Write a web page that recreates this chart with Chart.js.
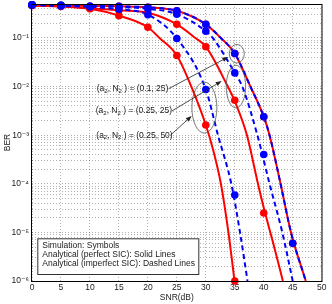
<!DOCTYPE html>
<html>
<head>
<meta charset="utf-8">
<script src="https://cdn.jsdelivr.net/npm/chart.js@4.4.1/dist/chart.umd.min.js"></script>
<style>
  html, body { margin: 0; padding: 0; background: #fff; }
  #chart { display: block; }
</style>
</head>
<body>
<canvas id="chart" width="332" height="304"></canvas>
<script>
// Simulation points (symbols)
const sim_snr = [0, 5, 10, 15, 20, 25, 30, 35, 40, 45];
const sim_perf_01_25 = [0.479, 0.468, 0.447, 0.447, 0.427, 0.363, 0.191, 0.0479, 0.0024, 6.0e-6];
const sim_imp_01_25 = [0.479, 0.468, 0.447, 0.447, 0.427, 0.363, 0.191, 0.0479, 0.0024, 6.0e-6];
const sim_perf_025_25 = [0.468, 0.447, 0.407, 0.372, 0.331, 0.191, 0.0661, 0.00525, 2.5e-5];
const sim_imp_025_25 = [0.479, 0.468, 0.447, 0.437, 0.398, 0.309, 0.138, 0.0191, 4.0e-4];
const sim_perf_025_50 = [0.468, 0.447, 0.398, 0.288, 0.166, 0.0437, 0.00162, 1.0e-6];
const sim_imp_025_50 = [0.479, 0.457, 0.437, 0.389, 0.302, 0.0977, 0.0087, 5.9e-5];

// Analytical curves
const ana_01_25_snr = [0, 5, 10, 15, 20, 25, 30, 32.6, 35, 37.7, 40, 41, 42.9, 44.7, 47.25];
const ana_01_25 = [0.479, 0.468, 0.457, 0.447, 0.427, 0.363, 0.191, 0.1, 0.0479, 0.01, 0.0024, 1e-3, 1e-4, 1e-5, 1e-6];
const ana_perf_025_25_snr = [0, 5, 10, 15, 20, 25, 28.2, 30, 33.8, 35, 37.1, 39, 40, 41.7, 43.3];
const ana_perf_025_25 = [0.468, 0.447, 0.407, 0.372, 0.331, 0.191, 0.1, 0.0661, 0.01, 0.005, 1e-3, 1e-4, 3.2e-5, 5.6e-6, 1e-6];
const ana_imp_025_25_snr = [0, 5, 10, 15, 20, 25, 30, 31.2, 35, 36.3, 38.9, 41.0, 43.2, 45];
const ana_imp_025_25 = [0.479, 0.468, 0.457, 0.437, 0.398, 0.309, 0.138, 0.1, 0.0191, 0.01, 1e-3, 1e-4, 1e-5, 1e-6];
const ana_perf_025_50_snr = [0, 5, 10, 15, 20, 22, 25, 27.5, 30, 31.3, 32.6, 33.9, 34.95];
const ana_perf_025_50 = [0.468, 0.447, 0.398, 0.288, 0.166, 0.1, 0.0437, 0.01, 0.00162, 4.8e-4, 1e-4, 1e-5, 1e-6];
const ana_imp_025_50_snr = [0, 5, 10, 15, 20, 25, 30, 32.1, 34.4, 35.9, 37.2];
const ana_imp_025_50 = [0.479, 0.457, 0.437, 0.389, 0.302, 0.0977, 0.0087, 1e-3, 1e-4, 1e-5, 1e-6];

// Axis ticks
const x_ticks = [0, 5, 10, 15, 20, 25, 30, 35, 40, 45, 50];
const y_decades = [1e-6, 1e-5, 1e-4, 1e-3, 1e-2, 1e-1];
const y_max = 0.5;

// Case labels
const cases = [
    { a2: '0.1', n2: '25' },
    { a2: '0.25', n2: '25' },
    { a2: '0.25', n2: '50' },
];
const legend_lines = [
    'Simulation: Symbols',
    'Analytical (perfect SIC): Solid Lines',
    'Analytical (imperfect SIC): Dashed Lines',
];

// Annotation anchors in data units (snr, ber), sizes in px
const case_ellipses = [
    { snr: 35.35, ber: 0.0474, rx: 7.5, ry: 9.3 },
    { snr: 35.2, ber: 0.01, rx: 9.7, ry: 21.3 },
    { snr: 29.75, ber: 0.0037, rx: 12.5, ry: 25.5 },
];
const case_labels = [
    { snr: 11.18, ber: 0.009 },
    { snr: 11.0, ber: 0.00315 },
    { snr: 11.1, ber: 0.001 },
];
const case_arrows = [
    { from: [23.56, 0.009], to: [33.88, 0.0408] },
    { from: [24.16, 0.00315], to: [32.74, 0.013] },
    { from: [23.9, 0.001], to: [27.56, 0.00249] },
];

const red = '#ff0000';
const blue = '#0000ff';
const text_color = '#1a1a1a';
const grid_color = 'rgba(0,0,0,0.3)';
const font_family = "'Liberation Sans', 'DejaVu Sans', Arial, sans-serif";

Chart.defaults.font.family = font_family;
Chart.defaults.font.size = 8.5;
Chart.defaults.color = text_color;

function pairs(xs, ys) {
    return ys.map((y, i) => ({ x: xs[i], y: y }));
}

function markers(values, color) {
    return {
        data: pairs(sim_snr, values),
        showLine: false,
        pointRadius: 3.8,
        pointBackgroundColor: color,
        pointBorderColor: color,
        pointBorderWidth: 0,
        clip: false,
    };
}

function curve(xs, ys, color, dashed) {
    return {
        data: pairs(xs, ys),
        borderColor: color,
        borderWidth: 2,
        borderDash: dashed ? [5, 3.5] : [],
        pointRadius: 0,
        cubicInterpolationMode: 'monotone',
        fill: false,
    };
}

const sup = { '-': '\u207B', '1': '\u00B9', '2': '\u00B2', '3': '\u00B3', '4': '\u2074', '5': '\u2075', '6': '\u2076' };
function decade_label(v) {
    const e = Math.round(Math.log10(v));
    if (Math.abs(Math.log10(v) - e) > 1e-6) return '';
    return '10' + String(e).split('').map(c => sup[c]).join('');
}

function y_grid_values() {
    const vals = [];
    y_decades.forEach(d => {
        for (let m = 1; m <= 9; m++) {
            const v = d * m;
            if (v <= y_max * 1.0001) vals.push(v);
        }
    });
    return vals;
}

function no_edge_padding(s) {
    s.paddingTop = 0;
    s.paddingBottom = 0;
    s.paddingLeft = 0;
    s.paddingRight = 0;
}

// Box, legend, ellipses, arrows, case labels
const notes_plugin = {
    id: 'notes',
    afterDatasetsDraw(chart) {
        const { ctx, chartArea: area, scales: { x, y } } = chart;
        ctx.save();

        // ellipses
        ctx.strokeStyle = '#555';
        ctx.lineWidth = 0.8;
        case_ellipses.forEach(e => {
            ctx.beginPath();
            ctx.ellipse(x.getPixelForValue(e.snr), y.getPixelForValue(e.ber), e.rx, e.ry, 0, 0, 2 * Math.PI);
            ctx.stroke();
        });

        // arrows
        ctx.strokeStyle = '#222';
        ctx.fillStyle = '#222';
        case_arrows.forEach(a => {
            const x0 = x.getPixelForValue(a.from[0]), y0 = y.getPixelForValue(a.from[1]);
            const x1 = x.getPixelForValue(a.to[0]), y1 = y.getPixelForValue(a.to[1]);
            const ang = Math.atan2(y1 - y0, x1 - x0);
            const hl = 6, hw = 2.3;
            ctx.beginPath();
            ctx.moveTo(x0, y0);
            ctx.lineTo(x1 - hl * Math.cos(ang), y1 - hl * Math.sin(ang));
            ctx.stroke();
            ctx.beginPath();
            ctx.moveTo(x1, y1);
            ctx.lineTo(x1 - hl * Math.cos(ang) + hw * Math.sin(ang), y1 - hl * Math.sin(ang) - hw * Math.cos(ang));
            ctx.lineTo(x1 - hl * Math.cos(ang) - hw * Math.sin(ang), y1 - hl * Math.sin(ang) + hw * Math.cos(ang));
            ctx.closePath();
            ctx.fill();
        });

        // case labels with subscripts
        ctx.fillStyle = text_color;
        ctx.textBaseline = 'middle';
        ctx.textAlign = 'left';
        case_labels.forEach((l, i) => {
            const parts = [
                ['(a', false], ['2', true], [', N', false], ['2', true],
                [' ) = (' + cases[i].a2 + ', ' + cases[i].n2 + ')', false],
            ];
            let cx = x.getPixelForValue(l.snr);
            const cy = y.getPixelForValue(l.ber);
            parts.forEach(([t, sub]) => {
                ctx.font = (sub ? '6px ' : '8.5px ') + font_family;
                ctx.fillText(t, cx, cy + (sub ? 2.6 : 0));
                cx += ctx.measureText(t).width;
            });
        });

        // legend box
        const bx = area.left + 5.3, by = area.bottom - 42.7, bw = 161, bh = 35.7;
        ctx.fillStyle = '#fff';
        ctx.fillRect(bx, by, bw, bh);
        ctx.strokeStyle = '#333';
        ctx.lineWidth = 1;
        ctx.strokeRect(bx + 0.5, by + 0.5, bw, bh);
        ctx.fillStyle = text_color;
        ctx.font = '8.5px ' + font_family;
        legend_lines.forEach((t, i) => {
            ctx.fillText(t, bx + 5, by + 7.4 + i * 8.8);
        });

        // axes box
        ctx.strokeStyle = '#000';
        ctx.lineWidth = 1;
        ctx.strokeRect(Math.round(area.left) - 0.5, Math.round(area.top) + 0.5,
            Math.round(area.right - area.left) + 0.5, Math.round(area.bottom - area.top));
        ctx.restore();
    }
};

const chart_canvas = document.getElementById('chart');
const chart = new Chart(chart_canvas, {
    type: 'line',
    data: {
        datasets: [
            markers(sim_imp_01_25, blue),
            markers(sim_imp_025_25, blue),
            markers(sim_imp_025_50, blue),
            markers(sim_perf_01_25, red),
            markers(sim_perf_025_25, red),
            markers(sim_perf_025_50, red),
            curve(ana_01_25_snr, ana_01_25, blue, true),
            curve(ana_imp_025_25_snr, ana_imp_025_25, blue, true),
            curve(ana_imp_025_50_snr, ana_imp_025_50, blue, true),
            curve(ana_01_25_snr, ana_01_25, red, false),
            curve(ana_perf_025_25_snr, ana_perf_025_25, red, false),
            curve(ana_perf_025_50_snr, ana_perf_025_50, red, false),
        ],
    },
    options: {
        responsive: false,
        animation: false,
        events: [],
        layout: { padding: { top: 3, right: 10.3, left: 0, bottom: 0 } },
        plugins: {
            legend: { display: false },
            tooltip: { enabled: false },
        },
        scales: {
            x: {
                type: 'linear',
                min: 0,
                max: 50,
                afterBuildTicks: s => { s.ticks = x_ticks.map(v => ({ value: v })); },
                afterFit: s => { s.height = 23; no_edge_padding(s); },
                ticks: { padding: 2, maxRotation: 0, autoSkip: false, color: text_color },
                grid: { color: grid_color, drawTicks: false, lineWidth: 1 },
                border: { display: false, dash: [1, 2] },
                title: { display: true, text: 'SNR(dB)', color: text_color, padding: { top: 0, bottom: 1.2 } },
            },
            y: {
                type: 'logarithmic',
                min: 1e-6,
                max: y_max,
                afterBuildTicks: s => { s.ticks = y_grid_values().map(v => ({ value: v })); },
                afterFit: s => { s.width = 32; no_edge_padding(s); },
                ticks: { padding: 3, autoSkip: false, color: text_color, callback: v => decade_label(v) },
                grid: { color: grid_color, drawTicks: false, lineWidth: 1 },
                border: { display: false, dash: [1, 2] },
                title: { display: true, text: 'BER', color: text_color, padding: { top: 3, bottom: 0 } },
            },
        },
    },
    plugins: [notes_plugin],
});
</script>
</body>
</html>
